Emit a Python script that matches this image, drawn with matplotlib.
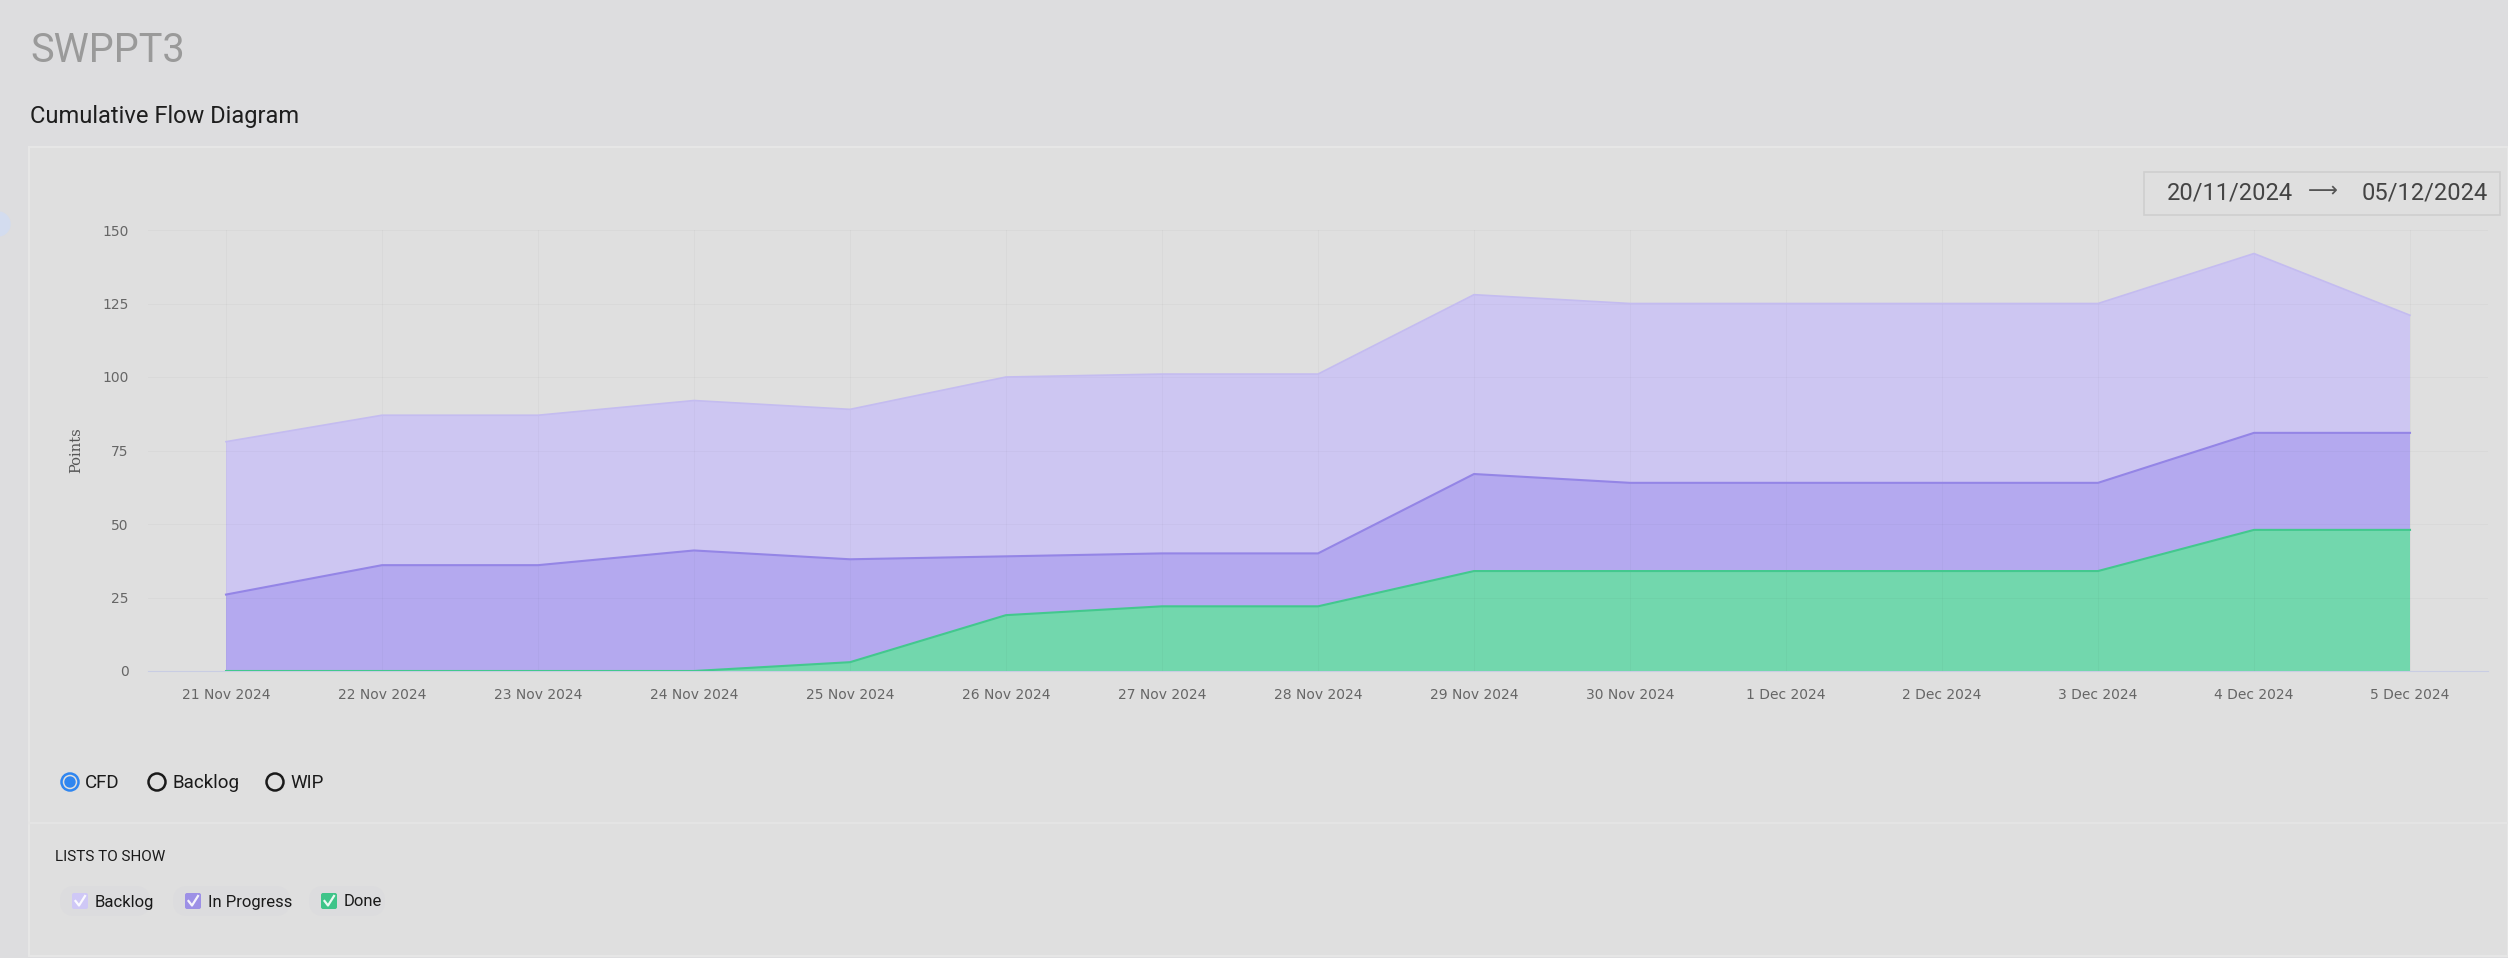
import numpy as np
import matplotlib
matplotlib.use("Agg")
from matplotlib import pyplot as plt
from matplotlib.patches import Circle, FancyBboxPatch, Rectangle
from matplotlib.lines import Line2D
from matplotlib.transforms import IdentityTransform

# data (points per list, stacked)
days = ["21 Nov 2024", "22 Nov 2024", "23 Nov 2024", "24 Nov 2024", "25 Nov 2024",
        "26 Nov 2024", "27 Nov 2024", "28 Nov 2024", "29 Nov 2024", "30 Nov 2024",
        "1 Dec 2024", "2 Dec 2024", "3 Dec 2024", "4 Dec 2024", "5 Dec 2024"]
done = [0, 0, 0, 0, 3, 19, 22, 22, 34, 34, 34, 34, 34, 48, 48]
in_progress = [26, 36, 36, 41, 35, 20, 18, 18, 33, 30, 30, 30, 30, 33, 33]
backlog = [52, 51, 51, 51, 51, 61, 61, 61, 61, 61, 61, 61, 61, 61, 40]
yticks = [0, 25, 50, 75, 100, 125, 150]

W, H = 2508, 958
bg = "#dddddf"
card = "#dfdfdf"
c_backlog = "#cdc6f2"
c_prog = "#b4a9ef"
c_done = "#72d7ad"

fig = plt.figure(figsize=(W / 100, H / 100), dpi=100, facecolor=bg)
ident = IdentityTransform()


def fx(x):
    return x / W


def fy(y):
    return 1 - y / H


# card panel (behind the axes)
fig.add_artist(Rectangle((29, 2), W - 29, H - 147 - 2, transform=ident,
                         facecolor=card, edgecolor="#e6e6e6", lw=1.5, zorder=-10))
fig.add_artist(Line2D([29, W], [H - 823, H - 823], transform=ident, color="#e4e4e4", lw=1.5, zorder=-9))
fig.add_artist(Circle((-2, H - 224), 12, transform=ident, color="#d3dcef", zorder=-9))

fig.text(fx(30), fy(50), "SWPPT3", fontsize=28.5, family="Roboto",
         color="#9a9a9a", va="center")
fig.text(fx(30), fy(117), "Cumulative Flow Diagram", fontsize=17, family="Roboto",
         color="#1e1e1e", va="center")

# date range box
fig.add_artist(Rectangle((2144, H - 215), 356, 43, transform=ident,
                         facecolor="none", edgecolor="#cfcfcf", lw=1.2))
fig.text(fx(2167), fy(193), "20/11/2024", fontsize=17, family="Roboto", color="#444444", va="center")
fig.text(fx(2323), fy(191), "\u27f6", fontsize=15, family=["DejaVu Sans"],
         color="#555555", va="center", ha="center")
fig.text(fx(2362), fy(193), "05/12/2024", fontsize=17, family="Roboto", color="#444444", va="center")

# chart
ax = fig.add_axes([fx(148), fy(671), (2488 - 148) / W, (671 - 230) / H])
ax.set_facecolor(card)
x = np.arange(len(days))
ax.stackplot(x, done, in_progress, backlog, colors=[c_done, c_prog, c_backlog], lw=0, zorder=2)
lvl1 = np.array(done)
lvl2 = lvl1 + np.array(in_progress)
lvl3 = lvl2 + np.array(backlog)
ax.plot(x, lvl1, color="#43c88e", lw=1.5, zorder=3)
ax.plot(x, lvl2, color="#9485e6", lw=1.5, zorder=3)
ax.plot(x, lvl3, color="#c4bcf0", lw=1.2, zorder=3)

ax.set_xlim(-0.5, len(days) - 0.5)
ax.set_ylim(0, 150)
ax.set_xticks(x)
ax.set_xticklabels(days)
ax.set_yticks(yticks)
ax.grid(True, color="black", alpha=0.025, lw=0.8, zorder=4)
ax.set_axisbelow(False)
for s in ["top", "right", "left"]:
    ax.spines[s].set_visible(False)
ax.spines["bottom"].set_color("#c9cde3")
ax.spines["bottom"].set_zorder(1)
ax.tick_params(length=0, colors="#666666", labelsize=10)
ax.tick_params(axis="x", pad=12)
ax.tick_params(axis="y", pad=14)
ax.set_ylabel("Points", fontsize=10.5, color="#555555", family="DejaVu Serif", labelpad=14)

# radio buttons
radios = [("CFD", 70, True), ("Backlog", 157, False), ("WIP", 275, False)]
for label, cx, on in radios:
    if on:
        fig.add_artist(Circle((cx, H - 782), 8.5, transform=ident, facecolor="none",
                              edgecolor="#2f86f0", lw=1.8))
        fig.add_artist(Circle((cx, H - 782), 5, transform=ident, color="#2f86f0"))
    else:
        fig.add_artist(Circle((cx, H - 782), 8.5, transform=ident, facecolor="none",
                              edgecolor="#1a1a1a", lw=1.8))
    fig.text(fx(cx + 15), fy(783), label, fontsize=13.5, family="Roboto", color="#1a1a1a", va="center")

fig.text(fx(55), fy(857), "LISTS TO SHOW", fontsize=11, family="Roboto", color="#1a1a1a", va="center")

# list checkboxes
lists = [("Backlog", 72, "#cfc8f6", 150), ("In Progress", 185, "#9d90e6", 290), ("Done", 321, "#3fc489", 385)]
for label, bx, col, pill_end in lists:
    fig.add_artist(FancyBboxPatch((bx - 12, H - 916), pill_end - bx + 12, 30, transform=ident,
                                  boxstyle="round,pad=0,rounding_size=15",
                                  facecolor="#dcdcde", edgecolor="none", zorder=-8))
    fig.add_artist(FancyBboxPatch((bx, H - 909), 16, 16, transform=ident,
                                  boxstyle="round,pad=0,rounding_size=2",
                                  facecolor=col, edgecolor="none"))
    fig.add_artist(Line2D([bx + 3.5, bx + 7, bx + 13], [H - 901, H - 905.5, H - 896],
                          transform=ident, color="white", lw=1.6, alpha=0.9))
    fig.text(fx(bx + 23), fy(902), label, fontsize=12, family="Roboto", color="#1a1a1a", va="center")

plt.savefig("out.png", dpi=100, facecolor=bg)
